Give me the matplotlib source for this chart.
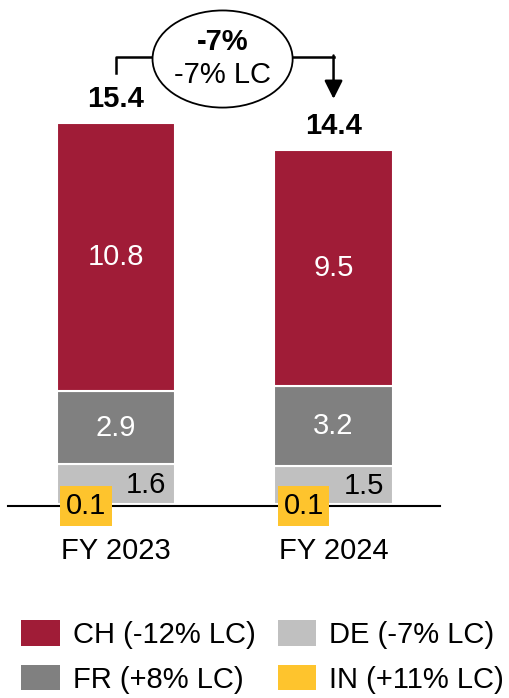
import numpy as np
import matplotlib.pyplot as plt
from matplotlib.patches import Ellipse, Patch

plt.rcParams['font.family'] = ['Liberation Sans', 'DejaVu Sans']

# data
years = ['FY 2023', 'FY 2024']
totals = ['15.4', '14.4']
in_vals = [0.1, 0.1]
de_vals = [1.6, 1.5]
fr_vals = [2.9, 3.2]
ch_vals = [10.8, 9.5]
growth = '-7%'
growth_lc = '-7% LC'
legend_labels = ['CH (-12% LC)', 'FR (+8% LC)', 'DE (-7% LC)', 'IN (+11% LC)']

c_ch = '#A01C37'
c_fr = '#808080'
c_de = '#C0C0C0'
c_in = '#FEC42D'
fs = 21

fig = plt.figure(figsize=(5.10, 6.98), dpi=100)
ax = fig.add_axes([0, 0, 1, 1])
ax.set_xlim(-0.533, 1.811)
ax.set_ylim(-7.71, 20.32)
ax.axis('off')

x = np.arange(len(years))
w = 0.543
inv = np.array(in_vals)
dev = np.array(de_vals)
frv = np.array(fr_vals)
chv = np.array(ch_vals)

ax.bar(x, inv, w, color=c_in, edgecolor='white', linewidth=1.5)
ax.bar(x, dev, w, bottom=inv, color=c_de, edgecolor='white', linewidth=1.5)
ax.bar(x, frv, w, bottom=inv + dev, color=c_fr, edgecolor='white', linewidth=1.5)
ax.bar(x, chv, w, bottom=inv + dev + frv, color=c_ch, edgecolor='white', linewidth=1.5)
top = inv + dev + frv + chv

# baseline
ax.plot([-0.497, 1.49], [0, 0], color='black', lw=1.5, zorder=3)

for i in range(len(years)):
    ax.text(x[i], inv[i] + dev[i] + frv[i] + chv[i] / 2, f'{ch_vals[i]:.1f}',
            ha='center', va='center', color='white', fontsize=fs)
    ax.text(x[i], inv[i] + dev[i] + frv[i] / 2, f'{fr_vals[i]:.1f}',
            ha='center', va='center', color='white', fontsize=fs)
    ax.text(x[i] + w / 2 - 0.04, inv[i] + dev[i] / 2 - 0.05, f'{de_vals[i]:.1f}',
            ha='right', va='center', color='black', fontsize=fs)
    ax.text(x[i] - 0.138, 0.0, f'{in_vals[i]:.1f}', ha='center', va='center',
            color='black', fontsize=fs, zorder=4,
            bbox=dict(boxstyle='square,pad=0.2', fc=c_in, ec='none'))
    ax.text(x[i], top[i] + 0.95, totals[i], ha='center', va='center',
            fontsize=fs, fontweight='bold')
    ax.text(x[i], -1.8, years[i], ha='center', va='center', fontsize=fs)

# growth bubble with connector
ey = 17.95
ex = 0.49
ax.add_patch(Ellipse((ex, ey), 0.644, 3.9, fc='white', ec='black', lw=1.3, zorder=3))
ax.text(ex, ey + 0.7, growth, ha='center', va='center', fontsize=fs,
        fontweight='bold', zorder=4)
ax.text(ex, ey - 0.65, growth_lc, ha='center', va='center', fontsize=fs, zorder=4)
cy = 18.05
ax.plot([x[0], x[0], ex - 0.322], [top[0] + 2.0, cy, cy], color='black', lw=1.8, zorder=2)
ax.plot([ex + 0.322, x[1]], [cy, cy], color='black', lw=1.8, zorder=2)
ax.annotate('', xy=(x[1], top[1] + 2.05), xytext=(x[1], cy + 0.04),
            arrowprops=dict(arrowstyle='-|>,head_length=1.1,head_width=0.55',
                            color='black', lw=1.8, shrinkA=0, shrinkB=0))

handles = [Patch(fc=c, ec='none') for c in [c_ch, c_fr, c_de, c_in]]
fig.legend(handles, legend_labels, ncol=2, loc='upper left',
           bbox_to_anchor=(21 / 510, 1 - 620 / 698), frameon=False,
           fontsize=fs, handlelength=1.33, handleheight=0.97, handletextpad=0.45,
           columnspacing=0.75, labelspacing=0.55, borderpad=0, borderaxespad=0)

fig.savefig('out.png', dpi=100)
